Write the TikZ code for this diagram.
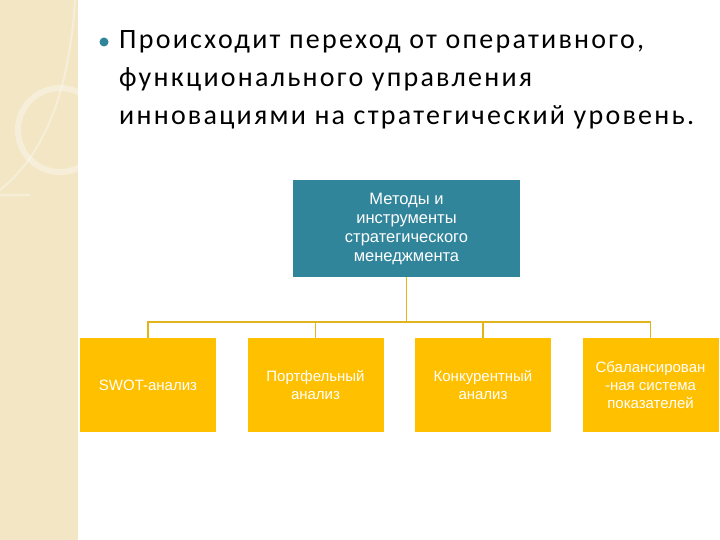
\documentclass[tikz,border=0pt]{standalone}
\usepackage{fontspec}
\setmainfont{Carlito}[LetterSpace=8]
\newfontfamily\arial{Liberation Sans}
\definecolor{teal1}{RGB}{49,133,155}
\definecolor{gold1}{RGB}{255,192,0}
\definecolor{line1}{RGB}{225,180,30}
\definecolor{beige}{RGB}{242,230,196}
\begin{document}
\begin{tikzpicture}[x=1pt,y=-1pt,
  topbox/.style={fill=teal1,text=white,font=\arial\fontsize{16.5}{19}\selectfont,align=center,inner sep=0pt,minimum width=227pt,minimum height=97pt},
  leaf/.style={fill=gold1,text=white,font=\arial\fontsize{15}{18}\selectfont,align=center,inner sep=0pt,minimum width=136pt,minimum height=94pt},
  conn/.style={draw=line1,line width=1.2pt}]
\useasboundingbox (0,0) rectangle (720,540);
\fill[beige] (0,0) rectangle (78,540);
\draw[white,opacity=0.35,line width=6pt] (60,130) circle (42);
\draw[white,opacity=0.35,line width=2pt] (0,195) -- (30,195) (75,0) .. controls (70,80) and (50,150) .. (0,190);
\fill[teal1] (104,42) circle (4.5);
\node[anchor=west,inner sep=0pt,font=\fontsize{28}{38}\selectfont,align=left] (txt) at (119,80) {Происходит переход от оперативного,\\функционального управления\\инновациями на стратегический уровень.};
\node[topbox] (top) at (406.5,228.5) {Методы и\\инструменты\\стратегического\\менеджмента};
\node[leaf] (a) at (148,385) {SWOT-анализ};
\node[leaf] (b) at (315.5,385) {Портфельный\\анализ};
\node[leaf] (c) at (483,385) {Конкурентный\\анализ};
\node[leaf] (d) at (650.5,385) {Сбалансирован\\-ная система\\показателей};
\coordinate (j) at (406.5,322);
\draw[conn] (top.south) -- (j);
\draw[conn] (a.north) |- (j) -| (d.north);
\draw[conn] (b.north) -- (b.north |- j);
\draw[conn] (c.north) -- (c.north |- j);
\end{tikzpicture}
\end{document}
